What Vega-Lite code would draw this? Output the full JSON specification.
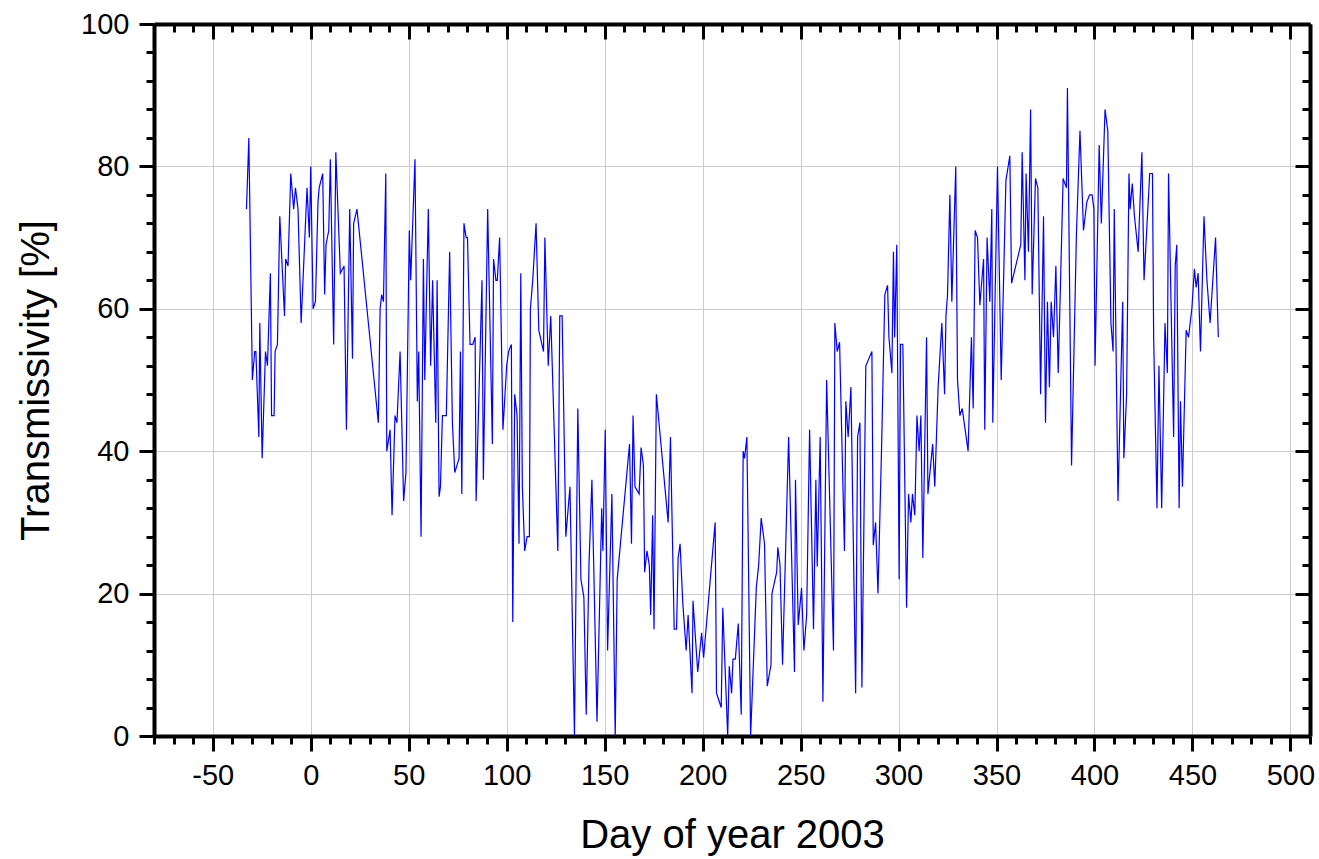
{
  "$schema": "https://vega.github.io/schema/vega-lite/v6.json",
  "width": 1156,
  "height": 712,
  "autosize": {"type": "none"},
  "padding": {"left": 154, "top": 24, "right": 9, "bottom": 123},
  "background": "white",
  "config": {
    "view": {"stroke": null},
    "font": "Liberation Sans",
    "axis": {"labelFont": "Liberation Sans", "titleFont": "Liberation Sans", "labelColor": "black", "titleColor": "black", "domainColor": "black", "tickColor": "black"}
  },
  "data": {"values": [
    {"day": -32.8, "t": 74}, {"day": -31.6, "t": 84}, {"day": -29.8, "t": 50}, {"day": -28.6, "t": 54}, {"day": -28, "t": 54},
    {"day": -26.5, "t": 42}, {"day": -26, "t": 58}, {"day": -24.8, "t": 39}, {"day": -23.1, "t": 54}, {"day": -22.1, "t": 52},
    {"day": -20.6, "t": 65}, {"day": -20, "t": 45}, {"day": -18.7, "t": 45}, {"day": -18.2, "t": 54}, {"day": -17, "t": 55},
    {"day": -15.8, "t": 73}, {"day": -13.4, "t": 59}, {"day": -12.8, "t": 67}, {"day": -11.6, "t": 66}, {"day": -10.2, "t": 79},
    {"day": -8.7, "t": 74}, {"day": -7.8, "t": 77}, {"day": -6.5, "t": 74}, {"day": -4.9, "t": 58}, {"day": -1.9, "t": 77},
    {"day": -0.7, "t": 70}, {"day": 0, "t": 80}, {"day": 1.2, "t": 60}, {"day": 2.4, "t": 61}, {"day": 3.7, "t": 75},
    {"day": 4.3, "t": 77}, {"day": 6.1, "t": 79}, {"day": 7.1, "t": 62}, {"day": 7.8, "t": 69}, {"day": 9.2, "t": 71},
    {"day": 10, "t": 81}, {"day": 11.7, "t": 55}, {"day": 12.8, "t": 82}, {"day": 15.1, "t": 65}, {"day": 17, "t": 66},
    {"day": 18.2, "t": 43}, {"day": 19.9, "t": 74}, {"day": 21.3, "t": 53}, {"day": 21.9, "t": 72}, {"day": 23.6, "t": 74},
    {"day": 34.5, "t": 44}, {"day": 35.4, "t": 60}, {"day": 36.2, "t": 62}, {"day": 37.1, "t": 61}, {"day": 38.3, "t": 79},
    {"day": 38.8, "t": 40}, {"day": 40.5, "t": 43}, {"day": 41.5, "t": 31}, {"day": 43, "t": 45}, {"day": 44, "t": 44},
    {"day": 45.6, "t": 54}, {"day": 47.4, "t": 33}, {"day": 48.6, "t": 37}, {"day": 50.3, "t": 71}, {"day": 51, "t": 64},
    {"day": 53.2, "t": 81}, {"day": 54.4, "t": 47}, {"day": 55.1, "t": 54}, {"day": 56.3, "t": 28}, {"day": 57.5, "t": 67},
    {"day": 58.2, "t": 50}, {"day": 60, "t": 74}, {"day": 61.2, "t": 52}, {"day": 62.2, "t": 64}, {"day": 63.8, "t": 44},
    {"day": 64.5, "t": 64}, {"day": 65.5, "t": 33.6}, {"day": 66.2, "t": 35}, {"day": 67.2, "t": 45}, {"day": 69.2, "t": 45},
    {"day": 70.9, "t": 68}, {"day": 72.3, "t": 44}, {"day": 73.5, "t": 37}, {"day": 75.7, "t": 39}, {"day": 76.4, "t": 54},
    {"day": 77.1, "t": 34}, {"day": 78.2, "t": 72}, {"day": 79.3, "t": 70}, {"day": 80, "t": 70}, {"day": 81.3, "t": 55},
    {"day": 82.7, "t": 55}, {"day": 83.9, "t": 56}, {"day": 84.4, "t": 33}, {"day": 87.4, "t": 64}, {"day": 88.1, "t": 36},
    {"day": 90.3, "t": 74}, {"day": 92.7, "t": 41}, {"day": 93.3, "t": 67}, {"day": 94.5, "t": 64}, {"day": 95.2, "t": 64},
    {"day": 96.4, "t": 70}, {"day": 98.1, "t": 43}, {"day": 100, "t": 52}, {"day": 101, "t": 54}, {"day": 102.4, "t": 55},
    {"day": 103.1, "t": 16}, {"day": 104.1, "t": 48}, {"day": 105.3, "t": 45}, {"day": 106.3, "t": 27}, {"day": 107.2, "t": 65},
    {"day": 108, "t": 35}, {"day": 109.2, "t": 26}, {"day": 110.4, "t": 28}, {"day": 111.6, "t": 28}, {"day": 112.1, "t": 60},
    {"day": 113.3, "t": 64}, {"day": 115, "t": 72}, {"day": 116.4, "t": 57}, {"day": 118.8, "t": 54}, {"day": 119.5, "t": 70},
    {"day": 121.2, "t": 52}, {"day": 122.5, "t": 59}, {"day": 126.1, "t": 26}, {"day": 127.1, "t": 59}, {"day": 128.3, "t": 59},
    {"day": 130.2, "t": 28}, {"day": 132.3, "t": 35}, {"day": 134.6, "t": 0}, {"day": 136.3, "t": 46}, {"day": 137.9, "t": 22},
    {"day": 139.4, "t": 19.5}, {"day": 140.6, "t": 3}, {"day": 142, "t": 24}, {"day": 143.5, "t": 36}, {"day": 146.1, "t": 2},
    {"day": 148.5, "t": 32}, {"day": 149.1, "t": 26}, {"day": 150.3, "t": 43}, {"day": 151.5, "t": 12}, {"day": 153.7, "t": 34},
    {"day": 155.4, "t": 0}, {"day": 156.4, "t": 22}, {"day": 162.7, "t": 41}, {"day": 163.7, "t": 27}, {"day": 164.5, "t": 45},
    {"day": 165.5, "t": 35}, {"day": 167.6, "t": 34}, {"day": 168.6, "t": 40.5}, {"day": 169.8, "t": 38}, {"day": 170.4, "t": 23},
    {"day": 171.6, "t": 26}, {"day": 172.8, "t": 24}, {"day": 173.5, "t": 17}, {"day": 174.5, "t": 31}, {"day": 175.2, "t": 15},
    {"day": 176.4, "t": 48}, {"day": 182.4, "t": 30}, {"day": 183.6, "t": 42}, {"day": 185.5, "t": 15}, {"day": 186.7, "t": 15},
    {"day": 187.5, "t": 25}, {"day": 188.5, "t": 27}, {"day": 189.9, "t": 18.6}, {"day": 191.6, "t": 12}, {"day": 192.6, "t": 17},
    {"day": 194.6, "t": 6}, {"day": 195.1, "t": 19}, {"day": 197.5, "t": 9}, {"day": 199.5, "t": 14.5}, {"day": 200.5, "t": 11},
    {"day": 206.4, "t": 30}, {"day": 207.1, "t": 6}, {"day": 209.5, "t": 4}, {"day": 210.3, "t": 18}, {"day": 212.8, "t": 0},
    {"day": 213.6, "t": 9.8}, {"day": 214.8, "t": 6}, {"day": 215.5, "t": 10.8}, {"day": 216.7, "t": 10.8}, {"day": 218.2, "t": 15.8},
    {"day": 219.7, "t": 3}, {"day": 220.7, "t": 40}, {"day": 221.4, "t": 39}, {"day": 222.6, "t": 42}, {"day": 224.5, "t": 0},
    {"day": 227.4, "t": 20.8}, {"day": 228.6, "t": 24}, {"day": 229.9, "t": 30.6}, {"day": 231.6, "t": 27}, {"day": 233, "t": 7},
    {"day": 234.9, "t": 10}, {"day": 235.4, "t": 20}, {"day": 237.8, "t": 23}, {"day": 238.4, "t": 26.5}, {"day": 239.5, "t": 24},
    {"day": 240.8, "t": 10}, {"day": 243.9, "t": 42}, {"day": 246.9, "t": 9}, {"day": 247.4, "t": 36}, {"day": 248.8, "t": 15.6},
    {"day": 250.5, "t": 20.8}, {"day": 251.7, "t": 12}, {"day": 253.1, "t": 17}, {"day": 254.6, "t": 43}, {"day": 256.6, "t": 15},
    {"day": 257.8, "t": 36}, {"day": 258.5, "t": 23.8}, {"day": 260, "t": 42}, {"day": 261.4, "t": 4.8}, {"day": 263.3, "t": 50},
    {"day": 266.8, "t": 12}, {"day": 267.5, "t": 58}, {"day": 268.7, "t": 54}, {"day": 269.9, "t": 55.3}, {"day": 272.4, "t": 26},
    {"day": 273.1, "t": 47}, {"day": 274.3, "t": 42}, {"day": 275.7, "t": 49}, {"day": 278.1, "t": 6}, {"day": 279.1, "t": 42},
    {"day": 280.3, "t": 44}, {"day": 281.3, "t": 6.8}, {"day": 283.3, "t": 52}, {"day": 286.4, "t": 54}, {"day": 287.1, "t": 26.8},
    {"day": 288.3, "t": 30}, {"day": 289.5, "t": 20}, {"day": 291.3, "t": 40}, {"day": 293, "t": 62}, {"day": 294.4, "t": 63.3},
    {"day": 295.1, "t": 56}, {"day": 296.6, "t": 51}, {"day": 297.4, "t": 68}, {"day": 298, "t": 56}, {"day": 299.1, "t": 69},
    {"day": 300.3, "t": 22}, {"day": 301, "t": 55}, {"day": 302.2, "t": 55}, {"day": 304.1, "t": 18}, {"day": 305.1, "t": 34},
    {"day": 306.3, "t": 30}, {"day": 307.1, "t": 34}, {"day": 308.3, "t": 31}, {"day": 309.4, "t": 45}, {"day": 310.5, "t": 40},
    {"day": 311.4, "t": 45}, {"day": 312.4, "t": 25}, {"day": 314.3, "t": 56}, {"day": 315, "t": 34}, {"day": 317.4, "t": 41},
    {"day": 318.5, "t": 35}, {"day": 320.2, "t": 49}, {"day": 322.1, "t": 58}, {"day": 323.5, "t": 48}, {"day": 324.2, "t": 59},
    {"day": 325, "t": 62}, {"day": 326.2, "t": 76}, {"day": 327.2, "t": 61}, {"day": 329.2, "t": 80}, {"day": 330.1, "t": 50},
    {"day": 331.3, "t": 45}, {"day": 332.5, "t": 46}, {"day": 335.5, "t": 40}, {"day": 337.2, "t": 56}, {"day": 338.1, "t": 46},
    {"day": 339.1, "t": 71}, {"day": 340.3, "t": 70}, {"day": 341.5, "t": 60.5}, {"day": 343.4, "t": 67}, {"day": 344, "t": 43},
    {"day": 345.2, "t": 70}, {"day": 346.6, "t": 61}, {"day": 347.6, "t": 74}, {"day": 348.1, "t": 44}, {"day": 350.5, "t": 80},
    {"day": 352.4, "t": 50}, {"day": 354.8, "t": 78}, {"day": 356.8, "t": 81.5}, {"day": 357.7, "t": 63.6}, {"day": 362.4, "t": 69},
    {"day": 363.1, "t": 82}, {"day": 364.5, "t": 64}, {"day": 365.1, "t": 79}, {"day": 366.3, "t": 68}, {"day": 367.4, "t": 88},
    {"day": 368.2, "t": 62}, {"day": 368.9, "t": 68.7}, {"day": 369.9, "t": 78.3}, {"day": 371.1, "t": 77}, {"day": 372.5, "t": 48},
    {"day": 374, "t": 73}, {"day": 375, "t": 44}, {"day": 376, "t": 61}, {"day": 377, "t": 49}, {"day": 377.9, "t": 61},
    {"day": 379.1, "t": 56}, {"day": 380.3, "t": 66}, {"day": 381.5, "t": 51}, {"day": 384, "t": 78.3}, {"day": 385.7, "t": 77},
    {"day": 386.2, "t": 91}, {"day": 388.3, "t": 38}, {"day": 390.8, "t": 70.6}, {"day": 392.6, "t": 85}, {"day": 394.4, "t": 71},
    {"day": 396.1, "t": 75}, {"day": 397.5, "t": 76}, {"day": 398.8, "t": 76}, {"day": 399.7, "t": 74}, {"day": 400.3, "t": 52},
    {"day": 402.4, "t": 83}, {"day": 403.5, "t": 72}, {"day": 405.4, "t": 88}, {"day": 406.8, "t": 85}, {"day": 408.4, "t": 58},
    {"day": 409.5, "t": 54}, {"day": 410.1, "t": 74}, {"day": 412, "t": 33}, {"day": 414.4, "t": 61}, {"day": 415, "t": 39},
    {"day": 416.4, "t": 48}, {"day": 417.6, "t": 79}, {"day": 418.2, "t": 74}, {"day": 419.3, "t": 77.6}, {"day": 420.4, "t": 73},
    {"day": 422.3, "t": 68}, {"day": 424.2, "t": 82}, {"day": 425.3, "t": 64}, {"day": 428.2, "t": 79}, {"day": 429.6, "t": 79},
    {"day": 430.2, "t": 56}, {"day": 431.9, "t": 32}, {"day": 432.9, "t": 52}, {"day": 434.3, "t": 32}, {"day": 436, "t": 58},
    {"day": 437.2, "t": 51}, {"day": 437.8, "t": 79}, {"day": 440.4, "t": 42}, {"day": 441.2, "t": 66}, {"day": 442, "t": 69},
    {"day": 443.2, "t": 32}, {"day": 443.9, "t": 47}, {"day": 444.9, "t": 35}, {"day": 446.8, "t": 57}, {"day": 448, "t": 56},
    {"day": 449.7, "t": 60}, {"day": 451, "t": 65.6}, {"day": 451.9, "t": 63}, {"day": 452.9, "t": 65}, {"day": 454.1, "t": 54},
    {"day": 455.9, "t": 73}, {"day": 457.4, "t": 64}, {"day": 459, "t": 58}, {"day": 461.8, "t": 70}, {"day": 463.2, "t": 56}
  ]},
  "resolve": {"axis": {"x": "independent", "y": "independent"}},
  "layer": [
    {
      "mark": {"type": "line", "color": "#0000ff", "strokeWidth": 1.2, "clip": true},
      "encoding": {
        "x": {"field": "day", "type": "quantitative", "scale": {"domain": [-80, 510], "nice": false, "zero": false},
          "axis": {"orient": "bottom", "values": [-50, 0, 50, 100, 150, 200, 250, 300, 350, 400, 450, 500], "title": "Day of year 2003",
            "labelExpr": "'' + datum.value",
            "titleFontSize": 40, "titleFontWeight": "normal", "titlePadding": 25, "labelFontSize": 29, "labelPadding": 10,
            "tickSize": 15, "tickWidth": 3, "domainWidth": 4, "grid": true, "gridColor": "#cccccc", "gridWidth": 1, "labelFlush": false, "labelOverlap": false}},
        "y": {"field": "t", "type": "quantitative", "scale": {"domain": [0, 100], "nice": false},
          "axis": {"orient": "left", "values": [0, 20, 40, 60, 80, 100], "title": "Transmissivity [%]",
            "titleFontSize": 40, "titleFontWeight": "normal", "titlePadding": 24, "labelFontSize": 29, "labelPadding": 10,
            "tickSize": 15, "tickWidth": 3, "domainWidth": 4, "grid": true, "gridColor": "#cccccc", "gridWidth": 1, "labelFlush": false, "labelOverlap": false}}
      }
    },
    {
      "mark": {"type": "line", "opacity": 0},
      "encoding": {
        "x": {"field": "day", "type": "quantitative",
          "axis": {"orient": "bottom", "values": [-80, -70, -60, -40, -30, -20, -10, 10, 20, 30, 40, 60, 70, 80, 90, 110, 120, 130, 140, 160, 170, 180, 190, 210, 220, 230, 240, 260, 270, 280, 290, 310, 320, 330, 340, 360, 370, 380, 390, 410, 420, 430, 440, 460, 470, 480, 490, 510],
            "title": null, "labels": false, "domain": false, "grid": false, "tickSize": 8, "tickWidth": 3}},
        "y": {"field": "t", "type": "quantitative",
          "axis": {"orient": "left", "values": [4, 8, 12, 16, 24, 28, 32, 36, 44, 48, 52, 56, 64, 68, 72, 76, 84, 88, 92, 96],
            "title": null, "labels": false, "domain": false, "grid": false, "tickSize": 8, "tickWidth": 3}}
      }
    },
    {
      "mark": {"type": "line", "opacity": 0},
      "encoding": {
        "x": {"field": "day", "type": "quantitative",
          "axis": {"orient": "top", "values": [-50, 0, 50, 100, 150, 200, 250, 300, 350, 400, 450, 500],
            "title": null, "labels": false, "domain": true, "domainWidth": 4, "grid": false, "tickSize": -15, "tickWidth": 3}},
        "y": {"field": "t", "type": "quantitative",
          "axis": {"orient": "right", "values": [0, 20, 40, 60, 80, 100],
            "title": null, "labels": false, "domain": true, "domainWidth": 4, "grid": false, "tickSize": -15, "tickWidth": 3}}
      }
    },
    {
      "mark": {"type": "line", "opacity": 0},
      "encoding": {
        "x": {"field": "day", "type": "quantitative",
          "axis": {"orient": "top", "values": [-80, -70, -60, -40, -30, -20, -10, 10, 20, 30, 40, 60, 70, 80, 90, 110, 120, 130, 140, 160, 170, 180, 190, 210, 220, 230, 240, 260, 270, 280, 290, 310, 320, 330, 340, 360, 370, 380, 390, 410, 420, 430, 440, 460, 470, 480, 490, 510],
            "title": null, "labels": false, "domain": false, "grid": false, "tickSize": -8, "tickWidth": 3}},
        "y": {"field": "t", "type": "quantitative",
          "axis": {"orient": "right", "values": [4, 8, 12, 16, 24, 28, 32, 36, 44, 48, 52, 56, 64, 68, 72, 76, 84, 88, 92, 96],
            "title": null, "labels": false, "domain": false, "grid": false, "tickSize": -8, "tickWidth": 3}}
      }
    }
  ]
}
